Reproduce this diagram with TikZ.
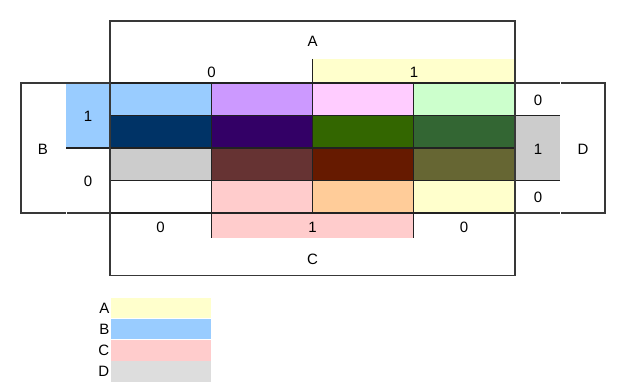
\documentclass[tikz,border=0pt]{standalone}
\usepackage{fontspec}
\setmainfont{Liberation Sans}
\definecolor{cA}{HTML}{FFFFCC}
\definecolor{cB}{HTML}{99CCFF}
\definecolor{cC}{HTML}{FFCCCC}
\definecolor{cD}{HTML}{CCCCCC}
\definecolor{cLeg}{HTML}{DDDDDD}
\definecolor{c12}{HTML}{CC99FF}
\definecolor{c13}{HTML}{FFCCFF}
\definecolor{c14}{HTML}{CCFFCC}
\definecolor{c21}{HTML}{003366}
\definecolor{c22}{HTML}{330066}
\definecolor{c23}{HTML}{336600}
\definecolor{c24}{HTML}{336633}
\definecolor{c32}{HTML}{663333}
\definecolor{c33}{HTML}{661A00}
\definecolor{c34}{HTML}{666633}
\definecolor{c43}{HTML}{FFCC99}
\definecolor{lineC}{HTML}{222222}
\begin{document}
\begin{tikzpicture}[x=1pt,y=-1pt,
  every node/.style={font=\fontsize{15}{18}\selectfont, text=black},
  cell/.style={fill=#1, minimum width=101.25pt, minimum height=32.5pt, inner sep=0pt, outer sep=0pt, anchor=north west},
  band/.style={fill=#1, inner sep=0pt, outer sep=0pt, anchor=north west},
  frame/.style={draw=black!78, line width=1.3pt},
  gridline/.style={draw=lineC, line width=1.3pt},
  lbl/.style={inner sep=0pt},
  swatch/.style={fill=#1, minimum width=100pt, minimum height=20.5pt, inner sep=0pt, outer sep=0pt, anchor=north west}]
\useasboundingbox (0,0) rectangle (630,390);
% bands
\node[band=cA, minimum width=202.5pt, minimum height=24pt] (bandA) at (312.5,59) {};
\node[band=cB, minimum width=44pt, minimum height=65pt] (bandB) at (66,83) {};
\node[band=cC, minimum width=202.5pt, minimum height=25pt] (bandC) at (211.25,213) {};
\node[band=cD, minimum width=45pt, minimum height=65pt] (bandD) at (515,115.5) {};
% cells
\node[cell=cB]  (r1c1) at (110,83) {};
\node[cell=c12] (r1c2) at (211.25,83) {};
\node[cell=c13] (r1c3) at (312.5,83) {};
\node[cell=c14] (r1c4) at (413.75,83) {};
\node[cell=c21] (r2c1) at (110,115.5) {};
\node[cell=c22] (r2c2) at (211.25,115.5) {};
\node[cell=c23] (r2c3) at (312.5,115.5) {};
\node[cell=c24] (r2c4) at (413.75,115.5) {};
\node[cell=cD]  (r3c1) at (110,148) {};
\node[cell=c32] (r3c2) at (211.25,148) {};
\node[cell=c33] (r3c3) at (312.5,148) {};
\node[cell=c34] (r3c4) at (413.75,148) {};
\node[cell=white] (r4c1) at (110,180.5) {};
\node[cell=cC]  (r4c2) at (211.25,180.5) {};
\node[cell=c43] (r4c3) at (312.5,180.5) {};
\node[cell=cA]  (r4c4) at (413.75,180.5) {};
% grid lines
\foreach \r in {1,2,3,4}{
  \draw[gridline] (r\r c1.south west) -- (r\r c4.south east);
  \draw[gridline] (r\r c2.north west) -- (r\r c2.south west);
  \draw[gridline] (r\r c3.north west) -- (r\r c3.south west);
  \draw[gridline] (r\r c4.north west) -- (r\r c4.south west);
}
\draw[gridline] (r1c1.north west) -- (r1c4.north east);
% band edges
\draw[gridline] (bandA.north west) -- (bandA.south west);
\draw[gridline] (bandB.south west) -- (bandB.south east);
\draw[gridline] (bandC.north west) -- (bandC.south west);
\draw[gridline] (bandC.north east) -- (bandC.south east);
\draw[gridline] (bandD.north west) -- (bandD.north east);
\draw[gridline] (bandD.south west) -- (bandD.south east);
% frames
\coordinate (Atl) at (110,21);
\coordinate (Atr) at (515,21);
\coordinate (Cbl) at (110,275.5);
\coordinate (Cbr) at (515,275.5);
\draw[frame] (Cbl) -- (Atl) -- (Atr) -- (Cbr) -- cycle;
\coordinate (Btl) at (21,83);
\coordinate (Bbl) at (21,213);
\coordinate (Bg1) at (65.6,213);
\coordinate (Bg2) at (66.6,213);
\draw[frame] (r1c1.north west) -- (Btl) -- (Bbl) -- (Bg1);
\draw[frame] (Bg2) -- (r4c1.south west);
\coordinate (Dtr) at (605,83);
\coordinate (Dbr) at (605,213);
\coordinate (Dg1) at (559.6,83);
\coordinate (Dg2) at (560.6,83);
\coordinate (Dg3) at (559.6,213);
\coordinate (Dg4) at (560.6,213);
\draw[frame] (r1c4.north east) -- (Dg1);
\draw[frame] (Dg2) -- (Dtr) -- (Dbr) -- (Dg4);
\draw[frame] (Dg3) -- (r4c4.south east);
% labels
\node[lbl] (labA) at (312.5,41) {A};
\node[lbl] (labA0) at (211.5,72.5) {0};
\node[lbl] (labA1) at (414,72.5) {1};
\node[lbl] (labB) at (43,149.5) {B};
\node[lbl] (labB1) at (88,116) {1};
\node[lbl] (labB0) at (88,181.5) {0};
\node[lbl] (labD) at (583,149.5) {D};
\node[lbl] (labD0a) at (538,100) {0};
\node[lbl] (labD1) at (538,149.5) {1};
\node[lbl] (labD0b) at (538,197.5) {0};
\node[lbl] (labC) at (312.5,259) {C};
\node[lbl] (labC0a) at (160.5,227) {0};
\node[lbl] (labC1) at (312.5,227) {1};
\node[lbl] (labC0b) at (464,227) {0};
% legend
\node[swatch=cA] (legA) at (111,298) {};
\node[swatch=cB] (legB) at (111,319) {};
\node[swatch=cC] (legC) at (111,340.5) {};
\node[swatch=cLeg] (legD) at (111,361.5) {};
\node[lbl, anchor=east] (legAt) at ([xshift=-1.5pt]legA.west) {A};
\node[lbl, anchor=east] (legBt) at ([xshift=-1.5pt]legB.west) {B};
\node[lbl, anchor=east] (legCt) at ([xshift=-1.5pt]legC.west) {C};
\node[lbl, anchor=east] (legDt) at ([xshift=-1.5pt]legD.west) {D};
\end{tikzpicture}
\end{document}
